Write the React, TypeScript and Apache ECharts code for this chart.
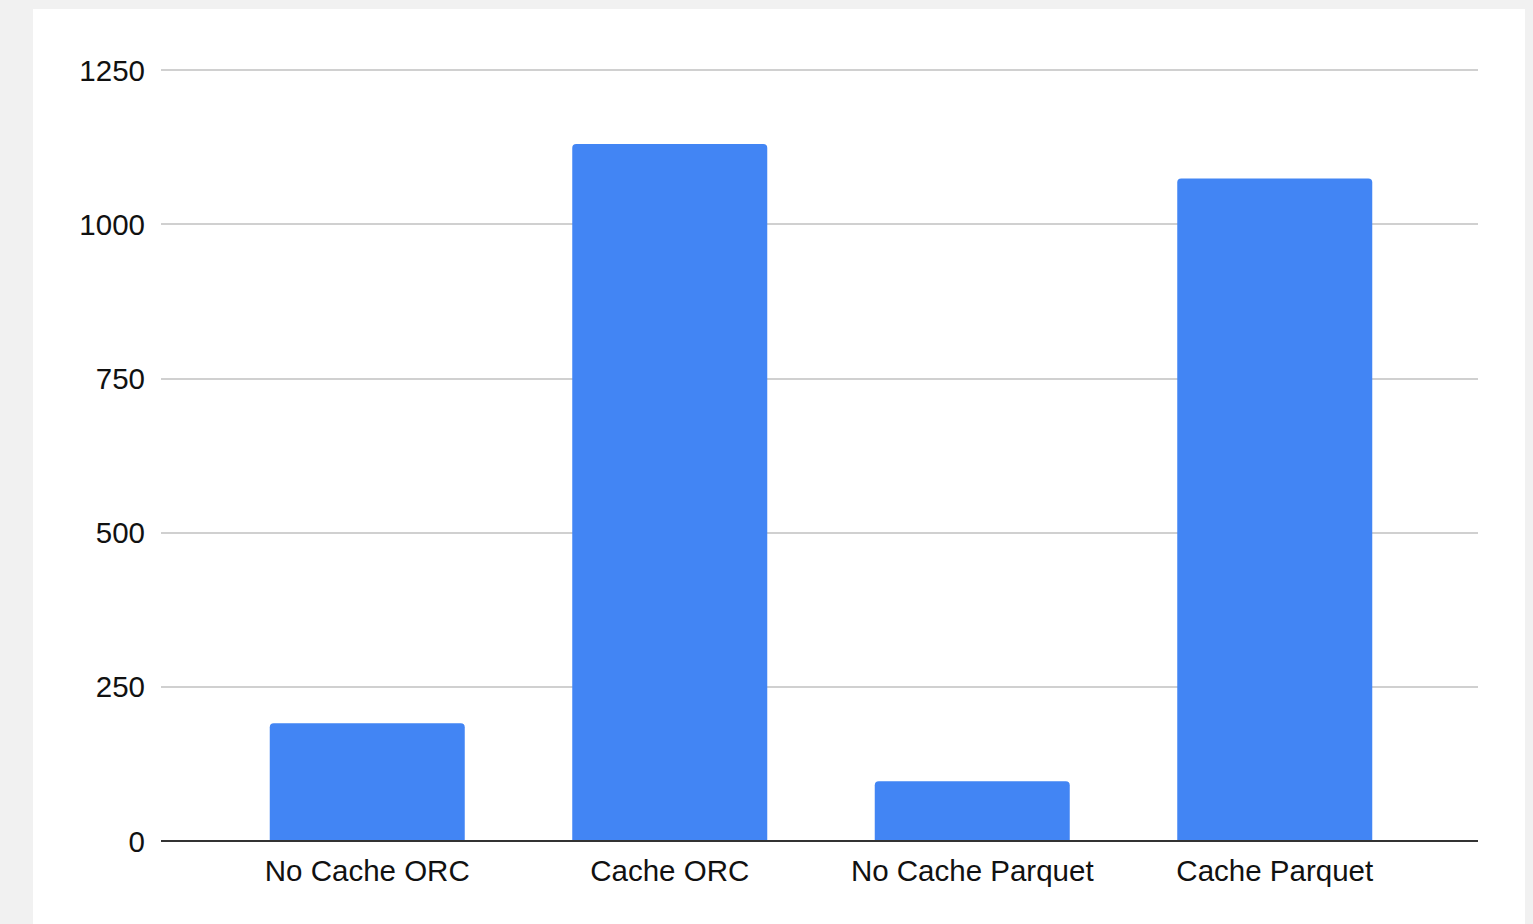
import React, { useEffect, useRef } from "react";
import * as echarts from "echarts";

const categories = ["No Cache ORC", "Cache ORC", "No Cache Parquet", "Cache Parquet"];
const values = [191, 1130, 97, 1074];
const yTicks = [0, 250, 500, 750, 1000, 1250];

export default function App() {
  const ref = useRef<HTMLDivElement>(null);
  useEffect(() => {
    if (!ref.current) return;
    const chart = echarts.init(ref.current, undefined, { renderer: "svg" });
    const font = "Liberation Sans, Arial, sans-serif";
    chart.setOption({
      animation: false,
      backgroundColor: "#f1f1f1",
      graphic: [
        { type: "rect", z: -10, shape: { x: 33, y: 9, width: 1492, height: 920 }, style: { fill: "#ffffff" } },
      ],
      grid: [
        { left: 161, right: 55, top: 70, bottom: 83 },
        { left: 216, right: 107, top: 70, bottom: 83 },
      ],
      xAxis: [
        { type: "category", gridIndex: 0, data: categories, show: false },
        {
          type: "category",
          gridIndex: 1,
          data: categories,
          axisLine: { show: false },
          axisTick: { show: false },
          axisLabel: { color: "#111", fontSize: 29.5, fontFamily: font, margin: 14, interval: 0, hideOverlap: false },
        },
      ],
      yAxis: [
        {
          type: "value",
          gridIndex: 0,
          min: yTicks[0],
          max: yTicks[yTicks.length - 1],
          interval: 250,
          axisLine: { show: false },
          axisTick: { show: false },
          axisLabel: {
            color: "#111",
            fontSize: 29.5,
            fontFamily: font,
            margin: 16,
            padding: [0, 0, 3, 0],
            formatter: (v: number) => String(v),
          },
          splitLine: { lineStyle: { color: "#d0d0d0", width: 2 } },
        },
        {
          type: "value",
          gridIndex: 1,
          min: yTicks[0],
          max: yTicks[yTicks.length - 1],
          interval: 250,
          show: false,
          splitLine: { show: false },
        },
      ],
      series: [
        {
          type: "line",
          xAxisIndex: 0,
          yAxisIndex: 0,
          data: [0, 0, 0, 0],
          showSymbol: false,
          lineStyle: { opacity: 0 },
          silent: true,
          markLine: {
            symbol: "none",
            silent: true,
            label: { show: false },
            lineStyle: { color: "#333", width: 2, type: "solid" },
            data: [{ yAxis: 0 }],
          },
        },
        {
          type: "bar",
          xAxisIndex: 1,
          yAxisIndex: 1,
          data: values,
          barWidth: 195,
          z: 1,
          itemStyle: { color: "#4285f4", borderRadius: [4, 4, 0, 0] },
        },
      ],
    });
    return () => chart.dispose();
  }, []);
  return (
    <div style={{ position: "fixed", left: 0, top: 0, width: 1533, height: 924 }}>
      <div ref={ref} style={{ width: 1533, height: 924 }} />
    </div>
  );
}
